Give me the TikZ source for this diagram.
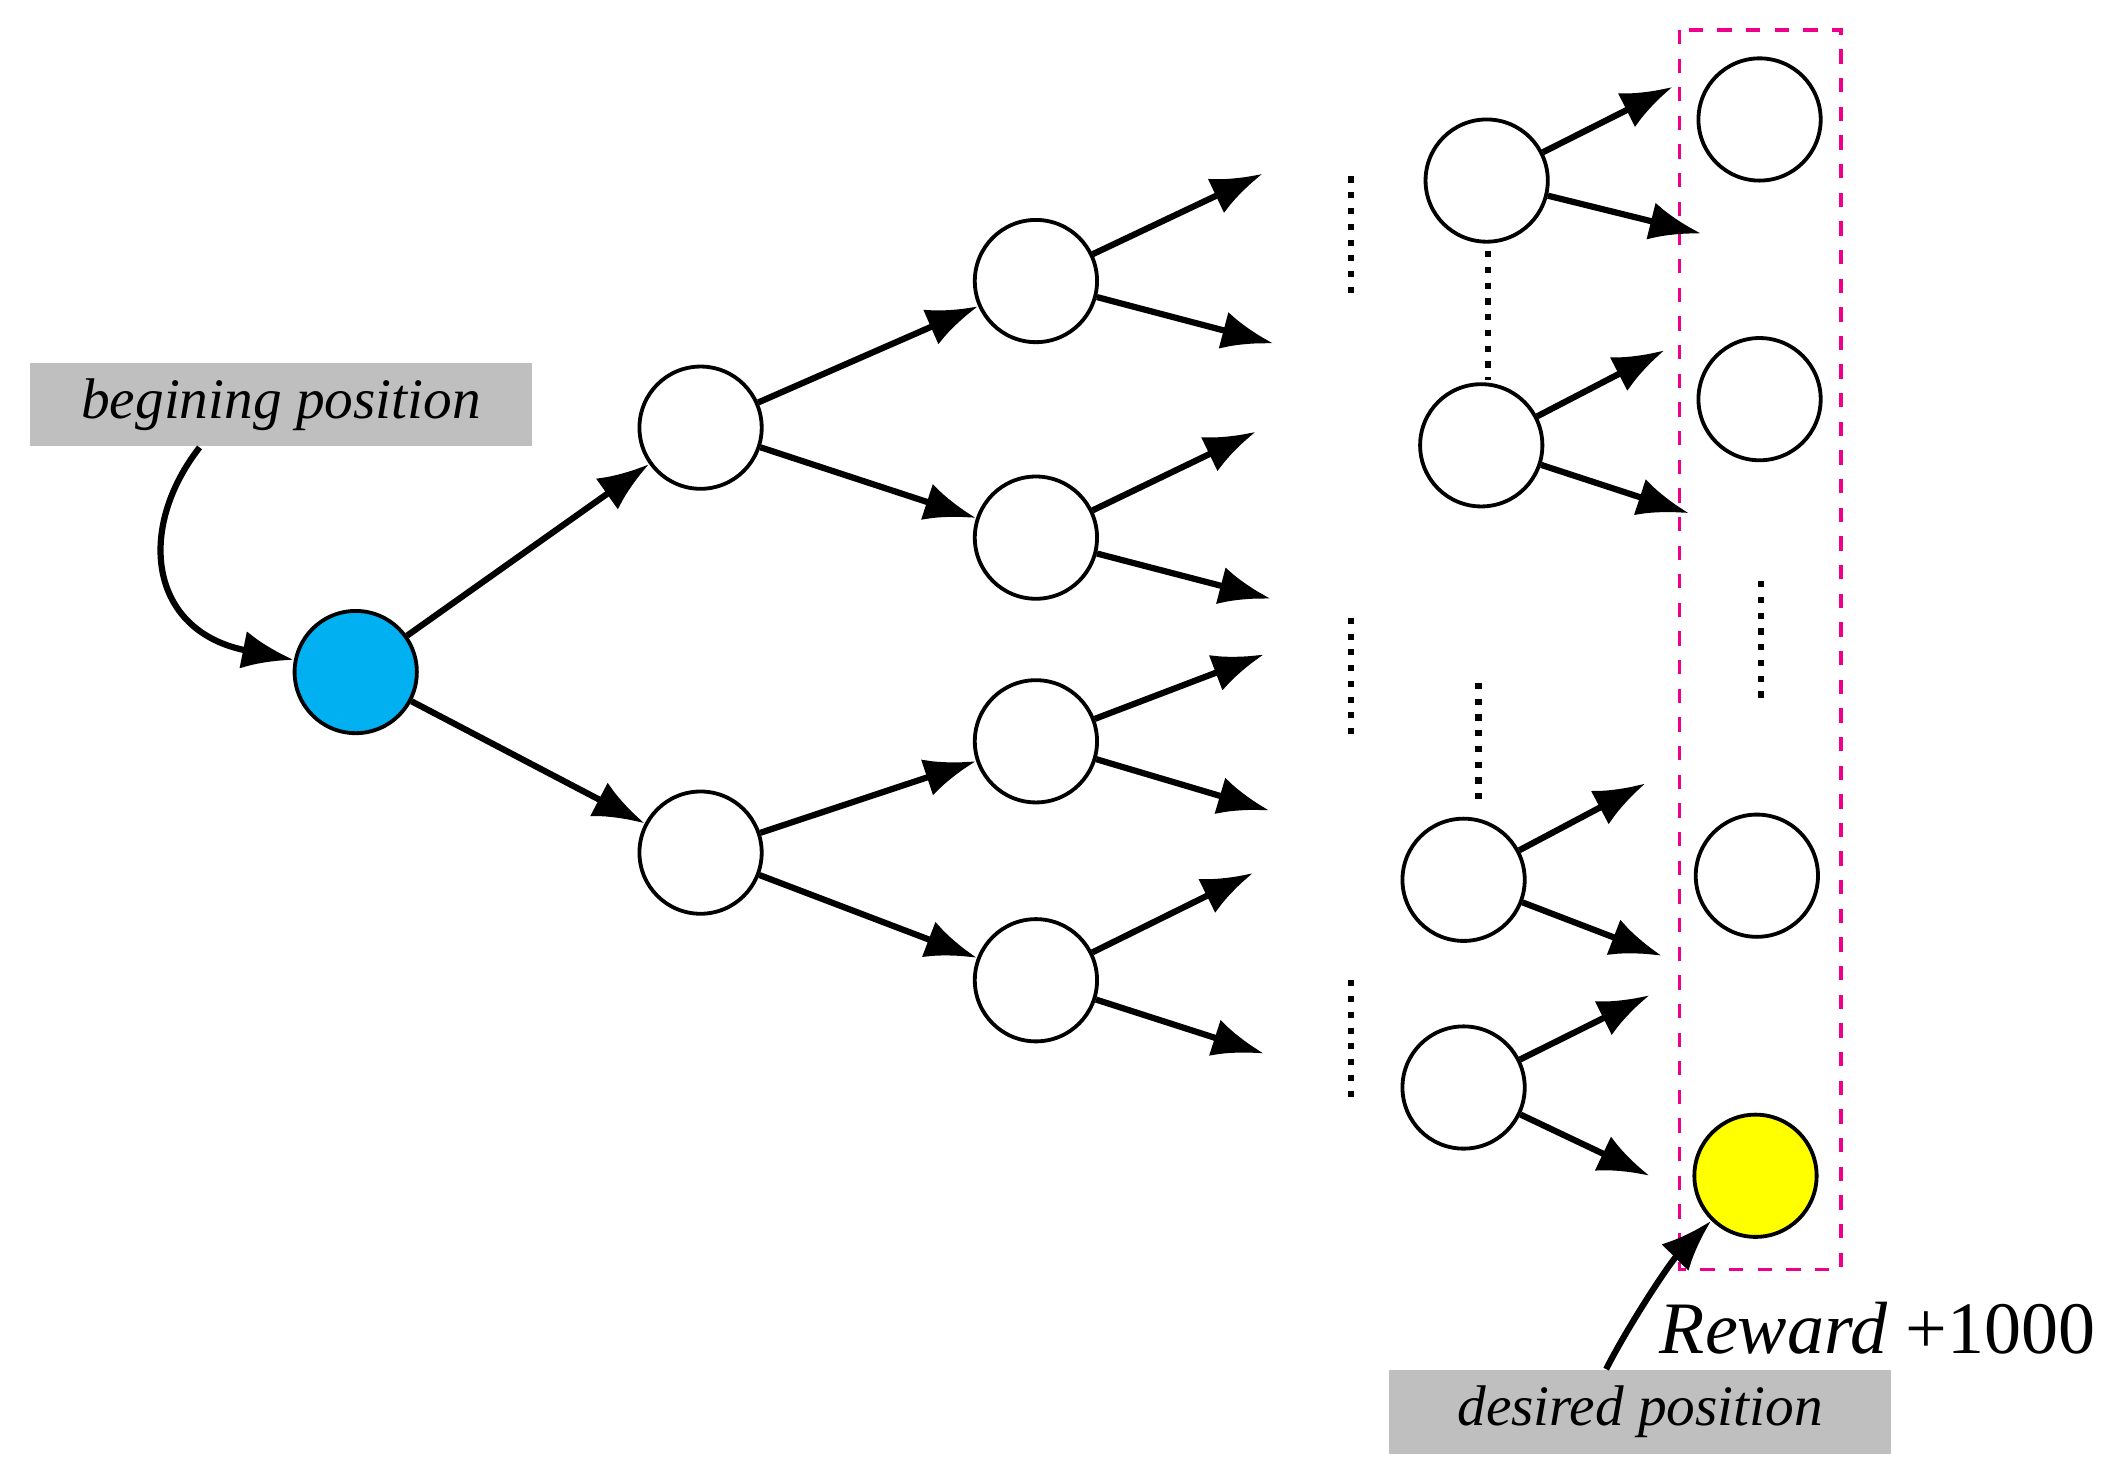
\documentclass[tikz,border=0pt]{standalone}
\usepackage{fontspec}
\setmainfont{Liberation Serif}
\usetikzlibrary{arrows.meta,positioning}
\definecolor{startblue}{RGB}{0,176,240}
\definecolor{goalyellow}{RGB}{255,255,0}
\tikzset{
    state/.style={draw, circle, fill=white, minimum size=0.9cm, inner sep=0pt, line width=0.8pt},
    link/.style={line width=1.3pt, -{Latex[length=0.38cm,width=0.28cm]}},
    dots/.style={line width=1.3pt, dotted},
    tag/.style={fill=black!25, minimum width=3.7cm, minimum height=0.57cm, font=\large\itshape},
}
\begin{document}
\begin{tikzpicture}[x=0.01cm,y=-0.01cm]
    \useasboundingbox (0,0) rectangle (1560,1085);
    % goal column
    \draw[magenta, dashed, line width=0.8pt] (1237,22) rectangle (1356,935);

    % nodes
    \node[state, fill=startblue] (s) at (262,495) {};
    \node[state] (a1) at (516,315) {};
    \node[state] (a2) at (516,628) {};
    \node[state] (b1) at (763,207) {};
    \node[state] (b2) at (763,396) {};
    \node[state] (b3) at (763,546) {};
    \node[state] (b4) at (763,722) {};
    \node[state] (c1) at (1095,133) {};
    \node[state] (c2) at (1091,328) {};
    \node[state] (c3) at (1078,648) {};
    \node[state] (c4) at (1078,801) {};
    \node[state] (g1) at (1296,88) {};
    \node[state] (g2) at (1296,294) {};
    \node[state] (g3) at (1294,645) {};
    \node[state, fill=goalyellow] (g4) at (1293,866) {};

    % free ends
    \coordinate (e1) at (930,128);  \coordinate (e2) at (938,253);
    \coordinate (e3) at (925,318);  \coordinate (e4) at (936,441);
    \coordinate (e5) at (931,482);  \coordinate (e6) at (935,597);
    \coordinate (e7) at (923,643);  \coordinate (e8) at (931,776);
    \coordinate (f1) at (1232,64);  \coordinate (f2) at (1253,172);
    \coordinate (f3) at (1226,258); \coordinate (f4) at (1244,378);
    \coordinate (f5) at (1212,577); \coordinate (f6) at (1224,704);
    \coordinate (f7) at (1215,733); \coordinate (f8) at (1215,866);

    % tree
    \draw[link] (s) -- (a1);
    \draw[link] (s) -- (a2);
    \draw[link] (a1) -- (b1);
    \draw[link] (a1) -- (b2);
    \draw[link] (a2) -- (b3);
    \draw[link] (a2) -- (b4);
    \foreach \n/\u/\v in {b1/e1/e2, b2/e3/e4, b3/e5/e6, b4/e7/e8,
                          c1/f1/f2, c2/f3/f4, c3/f5/f6, c4/f7/f8} {
        \draw[link] (\n) -- (\u);
        \draw[link] (\n) -- (\v);
    }

    % dotted gaps
    \draw[dots] (995,130) -- (995,220);
    \draw[dots] (995,455) -- (995,545);
    \draw[dots] (995,722) -- (995,812);
    \draw[dots] (1096,185) -- (1096,280);
    \draw[dots] (1089,503) -- (1089,590);
    \draw[dots] (1297,428) -- (1297,515);

    % labels
    \node[tag] (start) at (207,298) {begining position};
    \node[tag] (goal) at (1208,1040) {desired position};
    \node[font=\fontsize{15.5}{18}\selectfont, anchor=east] (rew) at (1556,978) {\textit{Reward} +1000};
    \draw[link] ([xshift=-0.6cm]start.south) .. controls (100,390) and (110,465) .. (s);
    \draw[link] ([xshift=-0.25cm]goal.north) .. controls (1200,975) and (1230,930) .. (g4);
\end{tikzpicture}
\end{document}
